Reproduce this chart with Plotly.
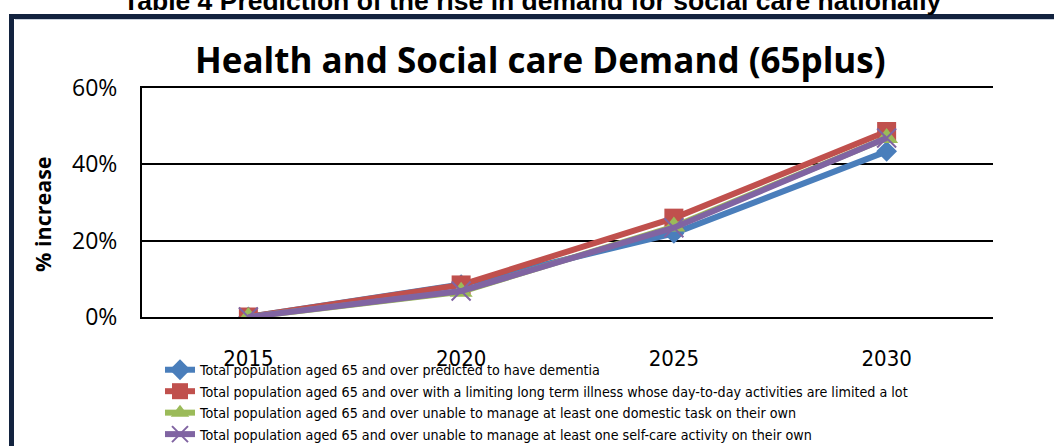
import plotly.graph_objects as go

years = ["2015", "2020", "2025", "2030"]
dementia = [0.0, 0.085, 0.219, 0.434]
limiting_illness = [0.0, 0.084, 0.259, 0.486]
domestic_task = [0.0, 0.066, 0.237, 0.469]
self_care = [0.0, 0.068, 0.234, 0.469]

names = [
    "Total population aged 65 and over predicted to have dementia",
    "Total population aged 65 and over with a limiting long term illness whose day-to-day activities are limited a lot",
    "Total population aged 65 and over unable to manage at least one domestic task on their own",
    "Total population aged 65 and over unable to manage at least one self-care activity on their own",
]
y_ticks = [0, 0.2, 0.4, 0.6]
y_tick_labels = ["0%", "20%", "40%", "60%"]

W, H = 1054, 446
L, R, T, B = 142, 993, 88, 317


def xp(px):
    return (px - L) / (R - L)


def yp(py):
    return (B - py) / (B - T)


fig = go.Figure()
styles = [
    dict(color="#4a7ebb", symbol="diamond", size=16, lw=0),
    dict(color="#c0504d", symbol="square", size=19, lw=0),
    dict(color="#9bbb59", symbol="triangle-up", size=20, lw=0),
    dict(color="#8064a2", symbol="x-thin-open", size=19, lw=2),
]
for vals, name, st in zip([dementia, limiting_illness, domestic_task, self_care], names, styles):
    fig.add_trace(go.Scatter(
        x=years, y=vals, name=name, mode="lines+markers",
        line=dict(color=st["color"], width=6),
        marker=dict(symbol=st["symbol"], size=st["size"], color=st["color"],
                    line=dict(color=st["color"], width=st["lw"])),
    ))

narrow = "Liberation Sans Narrow, DejaVu Sans Condensed, Arial Narrow, sans-serif"
cal = "Open Sans, Noto Sans, sans-serif"

fig.update_layout(
    width=W, height=H,
    margin=dict(l=L, r=W - R, t=T, b=H - B, pad=0, autoexpand=False),
    paper_bgcolor="white", plot_bgcolor="white",
    showlegend=True,
    legend=dict(
        xref="container", yref="container",
        x=160 / W, y=1 - 354 / H, xanchor="left", yanchor="top",
        font=dict(family=narrow, size=14.2, color="#000"),
        bgcolor="rgba(0,0,0,0)", tracegroupgap=0, itemsizing="trace",
    ),
    xaxis=dict(
        type="category", range=[-0.5, 3.5], showgrid=False, zeroline=False,
        showline=True, mirror=True, linecolor="#000", linewidth=2,
        ticks="", tickfont=dict(family=narrow, size=22, color="#000"),
        ticklabelstandoff=21, fixedrange=True, automargin=False,
    ),
    yaxis=dict(
        range=[0, 0.6], tickvals=y_ticks, ticktext=y_tick_labels,
        showgrid=True, gridcolor="#000", gridwidth=2, zeroline=False,
        showline=True, linecolor="#000", linewidth=2, ticks="",
        tickfont=dict(family=cal, size=23, color="#000"),
        ticklabelstandoff=18, fixedrange=True, automargin=False,
    ),
    annotations=[
        dict(text="<b>Health and Social care Demand (65plus)</b>", x=xp(540), y=yp(60),
             xref="paper", yref="paper", showarrow=False, xanchor="center", yanchor="middle",
             font=dict(family=cal, size=35, color="#000")),
        dict(text="<b>% increase</b>", x=xp(42), y=yp(214), xref="paper", yref="paper",
             showarrow=False, textangle=-90, xanchor="center", yanchor="middle",
             font=dict(family=cal, size=21.5, color="#000")),
        dict(text="<b>Table 4 Prediction of the rise in demand for social care nationally</b>",
             x=xp(532), y=yp(18), xref="paper", yref="paper", showarrow=False,
             xanchor="center", yanchor="bottom",
             font=dict(family="Liberation Sans, Arial, sans-serif", size=26.5, color="#000")),
    ],
    shapes=[
        dict(type="rect", xref="paper", yref="paper", x0=xp(9), x1=xp(1054), y0=yp(14), y1=yp(19),
             fillcolor="#13233f", line=dict(width=0), layer="above"),
        dict(type="rect", xref="paper", yref="paper", x0=xp(9), x1=xp(14), y0=yp(14), y1=yp(446),
             fillcolor="#13233f", line=dict(width=0), layer="above"),
        dict(type="line", xref="paper", yref="paper", x0=xp(15), x1=xp(1054), y0=yp(19.5), y1=yp(19.5),
             line=dict(color="#c8d0dc", width=1), layer="above"),
    ],
)

fig.write_html("out.html", config={"displayModeBar": False})
